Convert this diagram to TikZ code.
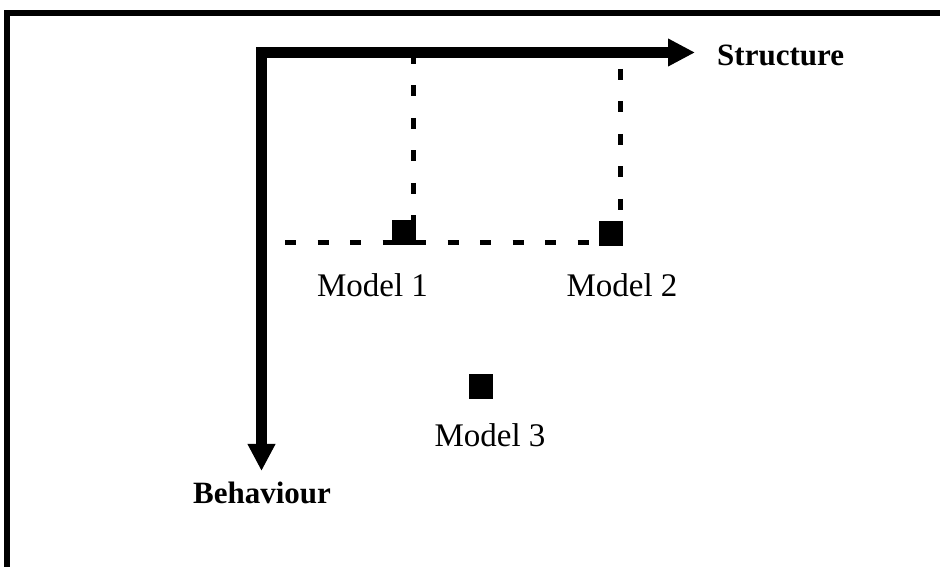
\documentclass[tikz,border=0pt]{standalone}
\usepackage{fontspec}
\setmainfont{Liberation Serif}
\usetikzlibrary{arrows.meta}
\begin{document}
\begin{tikzpicture}[x=1pt,y=1pt,
  frameline/.style={line width=6pt},
  axisline/.style={line width=11pt, line join=miter,
    {Triangle[length=27pt,width=26pt]}-{Triangle[length=27pt,width=26pt]}},
  guide/.style={line width=5pt, dash pattern=on 11pt off 21.5pt},
  model/.style={fill=black, minimum width=24pt, minimum height=25pt, inner sep=0pt},
  axislabel/.style={font=\fontsize{31}{33}\selectfont\bfseries, inner sep=0pt},
  modellabel/.style={font=\fontsize{33}{35}\selectfont, inner sep=0pt, anchor=base}]
  \useasboundingbox (0,0) rectangle (940,567);
  % page frame (top and left edges)
  \coordinate (fbl) at (7,0);
  \coordinate (ftr) at (940,554);
  \draw[frameline] (fbl) -- (7,557) (4,554) -- (ftr);

  % axes
  \coordinate (O) at (261.5,514.5);
  \coordinate (sEnd) at (695,514.5);
  \coordinate (bEnd) at (261.5,96);
  \draw[axisline] (bEnd) -- (O) -- (sEnd);
  \node[axislabel, anchor=base west] (slab) at (717,501) {Structure};
  \node[axislabel, anchor=base] (blab) at (262,63) {Behaviour};

  % models
  \node[model] (m1) at (404,334) {};
  \node[model] (m2) at (611,333) {};
  \node[model] (m3) at (480.5,180) {};
  \node[modellabel] (l1) at (372.5,270) {Model 1};
  \node[modellabel] (l2) at (622,270) {Model 2};
  \node[modellabel] (l3) at (490,120) {Model 3};

  % projection guides
  \coordinate (h0) at (285,324);
  \coordinate (v1) at (413,514);
  \coordinate (v2) at (620,498);
  \draw[guide] (h0) -- (h0 -| m2.west);
  \draw[guide] (v1) -- (v1 |- m1.north);
  \draw[guide] (v2) -- (v2 |- m2.north);
\end{tikzpicture}
\end{document}
